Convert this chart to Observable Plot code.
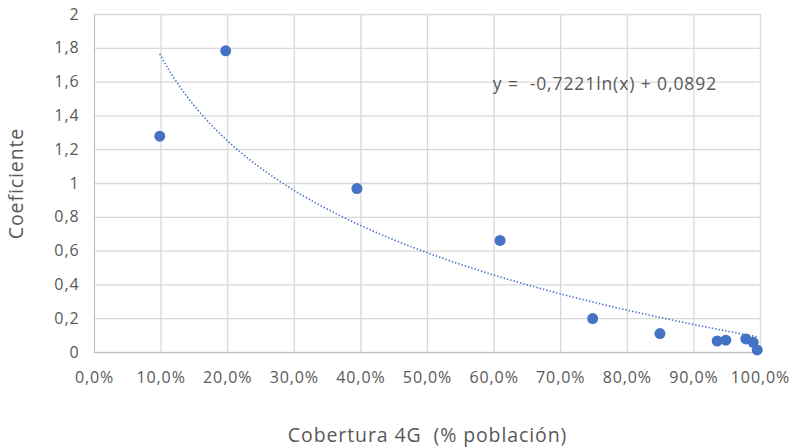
<!DOCTYPE html>
<html>
<head>
<meta charset="utf-8">
<script src="https://cdn.jsdelivr.net/npm/d3@7"></script>
<script src="https://cdn.jsdelivr.net/npm/@observablehq/plot@0.6"></script>
<style>
  html, body { margin: 0; padding: 0; background: #fff; }
  #chart svg { display: block; }
  #chart svg text { letter-spacing: 0.9px; }
</style>
</head>
<body>
<div id="chart"></div>
<script>
// Data
const coverage = [0.098, 0.197, 0.394, 0.609, 0.748, 0.849, 0.935, 0.948, 0.978, 0.989, 0.995];
const coefficient = [1.28, 1.785, 0.97, 0.663, 0.201, 0.112, 0.068, 0.073, 0.08, 0.06, 0.015];

// Logarithmic trendline as shown in the chart: y = -0.7221 ln(x) + 0.0892
const trendSlope = -0.7221;
const trendIntercept = 0.0892;
const trendLabel = ["y =  -0,7221ln(x) + 0,0892"];
const trendLabelPos = [{x: 0.598, y: 1.585}];

const xTicks = d3.range(0, 11).map(i => i / 10);
const yTicks = d3.range(0, 11).map(i => i / 5);

const xTitle = ["Cobertura 4G  (% población)"];
const yTitle = ["Coeficiente"];

const points = coverage.map((c, i) => ({x: c, y: coefficient[i]}));

// Trendline sampled across the data range
const xMin = d3.min(coverage), xMax = d3.max(coverage);
const trend = d3.range(0, 201).map(i => {
  const x = xMin + (xMax - xMin) * i / 200;
  return {x, y: trendSlope * Math.log(x) + trendIntercept};
});

const fmtX = d => d3.format(".1%")(d).replace(".", ",");
const fmtY = d => String(+d.toFixed(1)).replace(".", ",");

const textColor = "#595959";
const gridColor = "#d9d9d9";
const blue = "#4472C4";
const font = "'Open Sans', sans-serif";

const chart = Plot.plot({
  width: 794,
  height: 448,
  marginLeft: 94,
  marginRight: 34,
  marginTop: 14,
  marginBottom: 96,
  style: {fontFamily: font, color: textColor, background: "#fff"},
  x: {domain: [0, 1]},
  y: {domain: [0, 2]},
  marks: [
    Plot.gridX(xTicks, {stroke: gridColor, strokeOpacity: 1, strokeWidth: 1.3}),
    Plot.gridY(yTicks, {stroke: gridColor, strokeOpacity: 1, strokeWidth: 1.3}),
    Plot.ruleX([0], {stroke: "#bfbfbf", strokeWidth: 1}),
    Plot.ruleY([0], {stroke: "#bfbfbf", strokeWidth: 1}),
    Plot.axisX(xTicks, {tickSize: 0, tickPadding: 19, tickFormat: fmtX, fontSize: 16, fill: textColor, label: null}),
    Plot.axisY(yTicks, {tickSize: 0, tickPadding: 15, tickFormat: fmtY, fontSize: 16, fill: textColor, label: null}),
    Plot.line(trend, {x: "x", y: "y", stroke: blue, strokeWidth: 1.6, strokeDasharray: "1.4,2", strokeLinecap: "butt"}),
    Plot.dot(points, {x: "x", y: "y", r: 5.5, fill: blue, stroke: "none"}),
    Plot.text(trendLabel, {x: () => trendLabelPos[0].x, y: () => trendLabelPos[0].y, text: d => d, textAnchor: "start", fontSize: 17.5, fill: textColor}),
    Plot.text(xTitle, {x: () => 0.5, y: () => -0.49, text: d => d, fontSize: 19.5, lineAnchor: "middle", fill: textColor}),
    Plot.text(yTitle, {x: () => -0.116, y: () => 1.0, rotate: -90, text: d => d, fontSize: 19.5, lineAnchor: "middle", fill: textColor})
  ]
});

document.getElementById("chart").appendChild(chart);
</script>
</body>
</html>
